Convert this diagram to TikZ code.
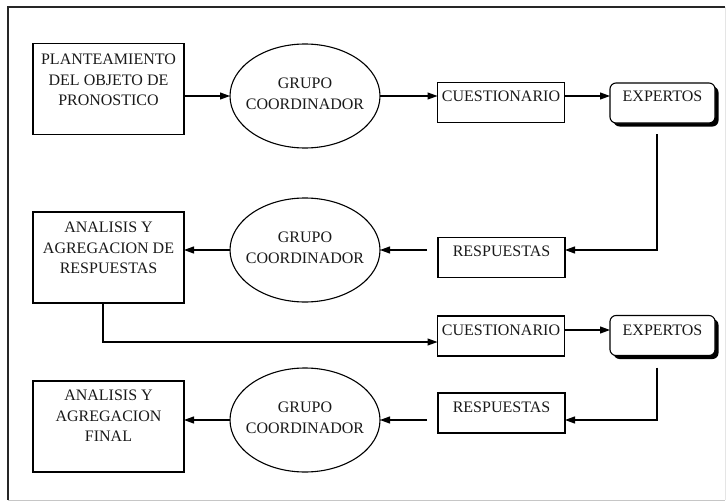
\documentclass[tikz,border=0pt]{standalone}
\usepackage{fontspec}
\setmainfont{Liberation Serif}
\usetikzlibrary{arrows.meta,shapes.geometric,shadows}
\begin{document}
\begin{tikzpicture}[x=1pt,y=-1pt,
  every node/.style={inner sep=0pt, outer sep=0pt},
  lbl/.style={font=\fontsize{16}{20.5}\selectfont, align=center, text=black!90},
  bigbox/.style={draw, line width=1.1pt, minimum width=151pt, minimum height=91pt},
  smallbox/.style={draw, line width=1.1pt, minimum width=127pt, minimum height=40pt},
  oval/.style={draw, ellipse, line width=1.1pt, minimum width=150pt, minimum height=104pt},
  expbox/.style={draw, line width=1.1pt, rounded corners=6pt, fill=white, minimum width=105pt, minimum height=40pt,
     drop shadow={shadow xshift=3.5pt, shadow yshift=-3.5pt, fill=black, opacity=1}},
  arr/.style={line width=1.1pt, -{Triangle[length=10pt,width=7pt]}}
]
\useasboundingbox (0,0) rectangle (728,503);
% frame
\draw[line width=1.6pt, black!85] (8,500) -- (8,7) -- (725,7);
\draw[line width=1pt, gray!45] (8,500) -- (725,500);
\draw[line width=0.8pt, gray!20] (725,7) -- (725,500);

% row 1
\node[bigbox] (b1) at (108.5,89) {};
\node[lbl] (tb1) at (108.5,80) {PLANTEAMIENTO\\DEL OBJETO DE\\PRONOSTICO};
\node[oval] (e1) at (305,96) {};
\node[lbl] (te1) at (305,94) {GRUPO\\COORDINADOR};
\node[smallbox] (q1) at (501,102.5) {};
\node[lbl] (tq1) at (501,96) {CUESTIONARIO};
\node[expbox] (x1) at (662.5,103) {};
\node[lbl] (tx1) at (662.5,96) {EXPERTOS};

% row 2
\node[smallbox] (r2) at (501.5,257.5) {};
\node[lbl] (tr2) at (501.5,251) {RESPUESTAS};
\node[oval] (e2) at (305,250) {};
\node[lbl] (te2) at (305,248) {GRUPO\\COORDINADOR};
\node[bigbox] (b2) at (108.5,257.5) {};
\node[lbl] (tb2) at (108.5,248) {ANALISIS Y\\AGREGACION DE\\RESPUESTAS};

% row 3
\node[smallbox] (q3) at (501,336) {};
\node[lbl] (tq3) at (501,330) {CUESTIONARIO};
\node[expbox] (x3) at (662.5,335.5) {};
\node[lbl] (tx3) at (662.5,330) {EXPERTOS};
\node[smallbox] (r3) at (501.5,413) {};
\node[lbl] (tr3) at (501.5,407) {RESPUESTAS};
\node[oval] (e3) at (305,420) {};
\node[lbl] (te3) at (305,418) {GRUPO\\COORDINADOR};
\node[bigbox] (b3) at (108.5,426.5) {};
\node[lbl] (tb3) at (108.5,416) {ANALISIS Y\\AGREGACION\\FINAL};

% connectors
\draw[arr] (b1.east |- e1.center) -- (e1.west);
\draw[arr] (e1.east) -- (q1.west |- e1.center);
\draw[arr] (q1.east |- e1.center) -- (x1.west |- e1.center);
\draw[arr] ([shift={(-5.5,11)}]x1.south) |- (r2.east |- e2.center);
\draw[arr, shorten <=11pt] (r2.west |- e2.center) -- (e2.east);
\draw[arr] (e2.west) -- (b2.east |- e2.center);
\draw[arr] ([xshift=-5.5pt]b2.south) |- ([yshift=-6pt]q3.west);
\draw[arr] (q3.east |- tq3.center) -- (x3.west |- tq3.center);
\draw[arr] ([shift={(-5.5,12)}]x3.south) |- (r3.east |- e3.center);
\draw[arr, shorten <=11pt] (r3.west |- e3.center) -- (e3.east);
\draw[arr] (e3.west) -- (b3.east |- e3.center);
\end{tikzpicture}
\end{document}
